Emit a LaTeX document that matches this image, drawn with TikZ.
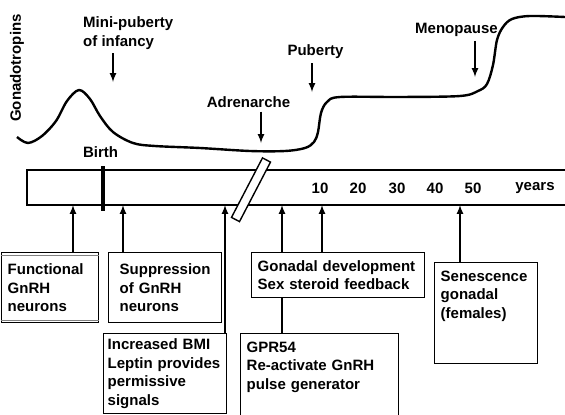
\documentclass[tikz,border=0pt]{standalone}
\usepackage{fontspec}
\setmainfont{Liberation Sans}
\usepackage{tikz}
\usetikzlibrary{arrows,calc,positioning}
\tikzset{
  lbl/.style = {inner sep=0pt, font=\bfseries\fontsize{15}{18.5}\selectfont},
  infobox/.style = {draw, line width=1.4pt, anchor=north west, align=left, inner xsep=6pt,
  inner ysep=0pt, font=\bfseries\fontsize{15}{18.5}\selectfont},
  box_a/.style = {infobox, text width=85pt, minimum height=70pt},
  box_b/.style = {infobox, text width=101pt, minimum height=70pt},
  box_c/.style = {infobox, inner xsep=4pt, text width=115pt, minimum height=80pt},
  box_d/.style = {infobox, text width=161pt, minimum height=45pt},
  box_e/.style = {infobox, text width=146pt, minimum height=82pt},
  box_f/.style = {infobox, text width=91pt, minimum height=101pt}
}

\begin{document}
\begin{tikzpicture}[x=1pt, y=-1pt, >=latex,
        	dnarrow/.style={->, line width=2pt, shorten <=4pt},
        	uparrow/.style={->, line width=2pt},
        	barline/.style={line width=1.5pt},
        	level/.style={line width=2.4pt, line join=round}]
    \useasboundingbox (0,0) rectangle (565,415);
    % hormone level curve
    \draw[level] plot[smooth, tension=0.55] coordinates {(17,137) (28,143) (42,136) (56,121)
      (67,101) (79,90) (90,99) (100,116) (113,132) (133,143) (155,146) (200,148) (250,151)
      (285,151) (305,148) (314,142) (318,132) (321,113) (327,102) (340,97) (400,97) (460,96)
      (478,91) (487,84) (493,65) (497,40) (503,27) (512,19) (530,16) (565,17)};
    \node [lbl, rotate=90] (gonado) at (17,68) {Gonadotropins};
    % events above the curve
    \node [lbl, align=left, anchor=west] (minipub) at (83,33) {Mini-puberty\\of infancy};
    \node [lbl] (adren) at (248.5,102) {Adrenarche};
    \node [lbl] (puberty) at (315.5,52) {Puberty};
    \node [lbl] (menop) at (456.5,30) {Menopause};
    \coordinate (minitip) at (113,82);
    \coordinate (adrentip) at (261,143);
    \coordinate (pubtip) at (312,92);
    \coordinate (menotip) at (475,77);
    \draw[dnarrow] (minipub.south -| minitip) -- (minitip);
    \draw[dnarrow] (adren.south -| adrentip) -- (adrentip);
    \draw[dnarrow] (puberty.south -| pubtip) -- (pubtip);
    \draw[dnarrow] (menop.south -| menotip) -- (menotip);
    % time bar
    \draw[barline] (565,170) -- (27,170) -- (27,205) -- (565,205);
    \node [lbl] (birth) at (100.5,152) {Birth};
    \coordinate (birthtop) at (103,166);
    \coordinate (birthbot) at (103,211);
    \draw[line width=4pt] (birthtop) -- (birthbot);
    \draw[line width=1.4pt, fill=white] (262.5,157.9) -- (270.5,162.1) -- (239.5,221.6)
      -- (231.5,217.4) -- cycle;
    \foreach \yr/\xx in {10/320, 20/358, 30/397, 40/435, 50/473}
        \node [lbl] (yr\yr) at (\xx,188) {\yr};
    \node [lbl] (years) at (535,188) {years};
    % boxes below the bar
    \node [box_a] (func) at (1,252) {Functional\\GnRH\\neurons};
    \draw[gray, line width=0.8pt] ([yshift=-3.5pt]func.north west) -- ([yshift=-3.5pt]func.north east);
    \draw[gray, line width=0.8pt] ([yshift=3.5pt]func.south west) -- ([yshift=3.5pt]func.south east);
    \node [box_b] (suppr) at (108,252) {\hspace*{5pt}Suppression\\\hspace*{5pt}of GnRH\\\hspace*{5pt}neurons};
    \node [box_c] (bmi) at (103,333) {Increased BMI\\Leptin provides\\permissive\\signals};
    \node [box_d] (gonad) at (251,252) {Gonadal development\\Sex steroid feedback};
    \node [box_e] (gpr) at (240,333) {GPR54\\Re-activate GnRH\\pulse generator\\~};
    \node [box_f] (senes) at (434,262) {Senescence\\gonadal\\(females)\\~\\~};
    \coordinate (t1) at (73,205);
    \coordinate (t2) at (123,205);
    \coordinate (t3) at (225,205);
    \coordinate (t4) at (282,205);
    \coordinate (t5) at (322,205);
    \coordinate (t6) at (460,205);
    \draw[uparrow] (func.north -| t1) -- (t1);
    \draw[uparrow] (suppr.north -| t2) -- (t2);
    \draw[uparrow] (bmi.north -| t3) -- (t3);
    \draw[uparrow] (gonad.north -| t4) -- (t4);
    \draw[uparrow] (gonad.north -| t5) -- (t5);
    \draw[uparrow] (senes.north -| t6) -- (t6);
    \draw[line width=2pt] (gpr.north -| t4) -- (gonad.south -| t4);
\end{tikzpicture}
\end{document}
